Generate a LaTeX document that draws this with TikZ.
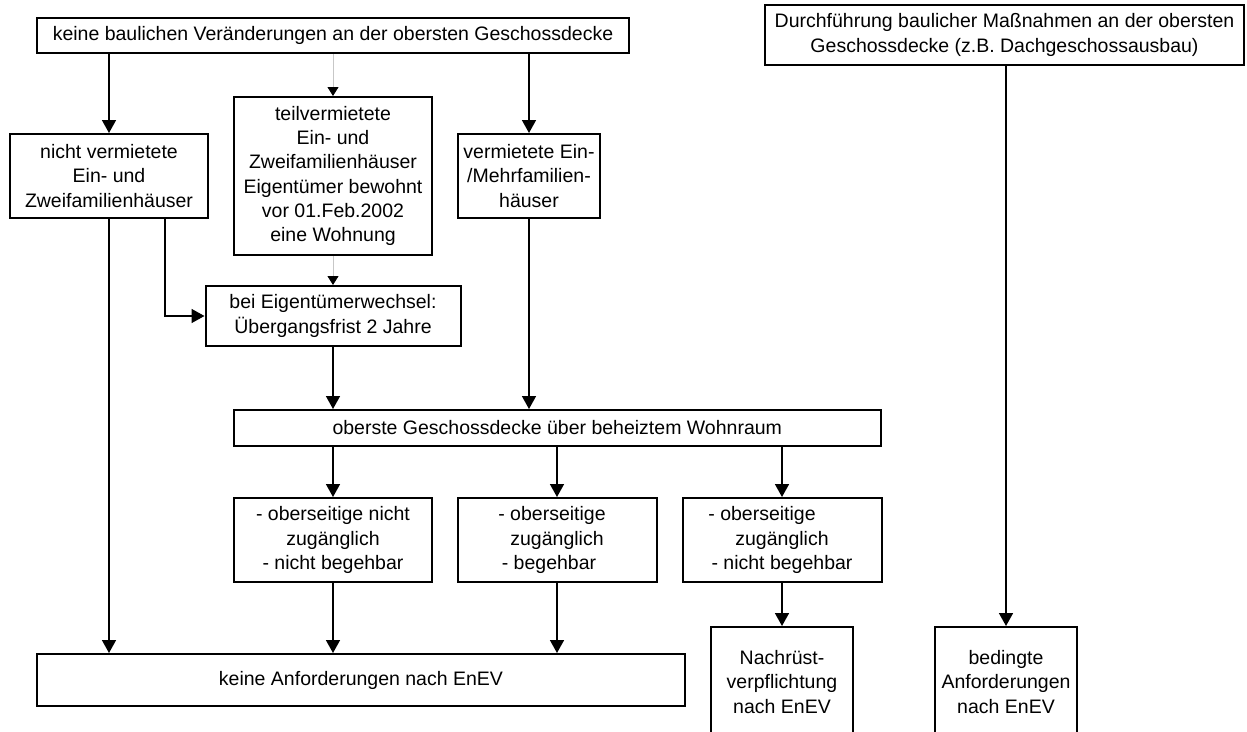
\documentclass[tikz,border=0pt]{standalone}
\usepackage{fontspec}
\setmainfont{Liberation Sans}
\usetikzlibrary{arrows.meta,calc}
\begin{document}
\begin{tikzpicture}[x=1pt,y=-1pt,
  box/.style={draw=black,line width=2pt,align=center,inner sep=0pt,
    font=\fontsize{19.5}{24.3}\selectfont},
  arr/.style={line width=1.6pt,-{Triangle[length=13pt,width=14pt]}},
  garr/.style={line width=0.8pt,draw=black!22,-{Triangle[length=9pt,width=11pt,color=black]}}]
\fill[white] (0,0) rectangle (1247,731);
\useasboundingbox (0,0) rectangle (1247,731);
\clip (0,0) rectangle (1247,731);

\node[box,minimum width=591.6pt,minimum height=35pt] (top) at (333,35.5)
  {keine baulichen Veränderungen an der obersten Geschossdecke};
\node[box,minimum width=479pt,minimum height=60pt] (rtop) at (1004.5,35)
  {Durchführung baulicher Maßnahmen an der obersten\\Geschossdecke (z.B. Dachgeschossausbau)};
\node[box,minimum width=198pt,minimum height=84pt] (left) at (109,176)
  {nicht vermietete\\Ein- und\\Zweifamilienhäuser};
\node[box,minimum width=198.5pt,minimum height=158pt] (mid) at (333,176)
  {teilvermietete\\Ein- und\\Zweifamilienhäuser\\Eigentümer bewohnt\\vor 01.Feb.2002\\eine Wohnung};
\node[box,minimum width=142.4pt,minimum height=84pt] (right) at (529,176)
  {vermietete Ein-\\/Mehrfamilien-\\häuser};
\node[box,minimum width=255pt,minimum height=60pt] (bei) at (333,316)
  {bei Eigentümerwechsel:\\Übergangsfrist 2 Jahre};
\node[box,minimum width=647.5pt,minimum height=36pt] (ober) at (557.25,428)
  {oberste Geschossdecke über beheiztem Wohnraum};
\node[box,minimum width=198.5pt,minimum height=84pt] (b1) at (333,540)
  {- oberseitige nicht\\zugänglich\\- nicht begehbar};
\node[box,minimum width=199pt,minimum height=84pt] (b2) at (557,540)
  {- oberseitige\rule{10pt}{0pt}\\zugänglich\\- begehbar\rule{16pt}{0pt}};
\node[box,minimum width=199pt,minimum height=84pt] (b3) at (782,540)
  {- oberseitige\rule{40pt}{0pt}\\zugänglich\\- nicht begehbar};
\node[box,minimum width=648pt,minimum height=52pt] (keine) at (361,680)
  {keine Anforderungen nach EnEV};
\node[box,minimum width=142pt,minimum height=110pt] (nach) at (782,682)
  {Nachrüst-\\verpflichtung\\nach EnEV};
\node[box,minimum width=142pt,minimum height=110pt] (bed) at (1006,682)
  {bedingte\\Anforderungen\\nach EnEV};

\coordinate (lx) at (165,0);
\draw[arr] (top.south -| left.north) -- (left.north);
\draw[garr] (top.south -| mid.north) -- (mid.north);
\draw[arr] (top.south -| right.north) -- (right.north);
\draw[garr] (mid.south) -- (bei.north);
\draw[arr] (lx |- left.south) |- (bei.west);
\draw[arr] (left.south) -- (keine.north -| left.south);
\draw[arr] (bei.south) -- (bei.south |- ober.north);
\draw[arr] (right.south) -- (right.south |- ober.north);
\draw[arr] (ober.south -| b1.north) -- (b1.north);
\draw[arr] (ober.south -| b2.north) -- (b2.north);
\draw[arr] (ober.south -| b3.north) -- (b3.north);
\draw[arr] (b1.south) -- (b1.south |- keine.north);
\draw[arr] (b2.south) -- (b2.south |- keine.north);
\draw[arr] (b3.south) -- (nach.north);
\draw[arr] (rtop.south -| bed.north) -- (bed.north);
\end{tikzpicture}
\end{document}
